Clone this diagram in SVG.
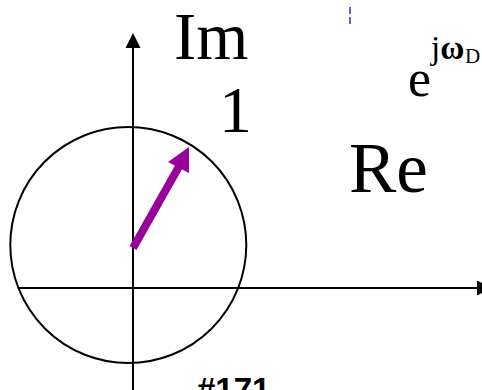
<svg xmlns="http://www.w3.org/2000/svg" width="482" height="390" viewBox="0 0 482 390">
<style>
.ax{stroke:#000;stroke-width:2;fill:none}
.lbl{font-family:"Liberation Serif","Times New Roman",serif;fill:#000}
</style>
<rect width="482" height="390" fill="#fff"/>
<g id="circle"><circle cx="128.3" cy="245" r="118" class="ax"/></g>
<g id="connectors">
<line x1="133" y1="390" x2="133" y2="46" class="ax"/>
<polygon points="133,33 125.5,48 140.5,48" fill="#000"/>
<line x1="18" y1="288" x2="478" y2="288" class="ax"/>
<polygon points="477,280.5 477,295.5 492,288" fill="#000"/>
<line x1="133" y1="248" x2="179" y2="166.5" stroke="#990099" stroke-width="8"/>
<polygon points="189,147 168,162 189,173" fill="#990099"/>
<line x1="350" y1="7" x2="350" y2="24" stroke="#3333aa" stroke-width="1.5" stroke-dasharray="7,3"/>
</g>
<g id="labels">
<text x="174" y="58.5" class="lbl" font-size="67">Im</text>
<text x="219" y="132" class="lbl" font-size="66">1</text>
<text x="349" y="191.5" class="lbl" font-size="71">Re</text>
<text x="408" y="96" class="lbl" font-size="52">e<tspan x="431" font-size="33" dy="-37">j<tspan font-weight="bold">ω</tspan></tspan><tspan x="465" font-size="21" dy="4">D</tspan></text>
<text x="197" y="401" font-family="Liberation Sans,Arial,sans-serif" font-weight="bold" font-size="33">#171</text>
</g>
</svg>
